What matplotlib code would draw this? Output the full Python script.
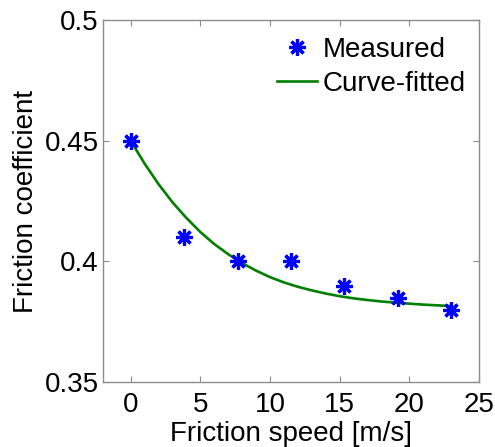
import matplotlib
matplotlib.use("Agg")
import matplotlib.pyplot as plt

plt.rcParams['font.family'] = ['Liberation Sans', 'DejaVu Sans']

# Measured data
speed_measured = [0.0, 3.83, 7.67, 11.5, 15.33, 19.17, 23.0]
coef_measured = [0.450, 0.410, 0.400, 0.400, 0.390, 0.385, 0.380]

# Curve-fitted line
speed_fit = [0, 1, 2, 3, 4, 5, 6, 7, 8, 9, 10, 11, 12, 13, 14, 15, 16, 17, 18, 19, 20, 21, 22, 23]
coef_fit = [0.4500, 0.4405, 0.4320, 0.4245, 0.4180, 0.4122, 0.4072, 0.4030, 0.3993, 0.3962,
            0.3935, 0.3913, 0.3895, 0.3880, 0.3867, 0.3856, 0.3847, 0.3840, 0.3834, 0.3829,
            0.3825, 0.3821, 0.3818, 0.3815]

x_ticks = [0, 5, 10, 15, 20, 25]
y_ticks = [0.35, 0.4, 0.45, 0.5]
y_ticklabels = ['0.35', '0.4', '0.45', '0.5']

fig = plt.figure(figsize=(4.95, 4.47), dpi=100)
ax = fig.add_axes([0.208, 0.1454, 0.759, 0.8092])

ax.plot(speed_measured, coef_measured, linestyle='none', marker=(8, 2, 0),
        markersize=12, markeredgewidth=2.3, color='#0000ff', label='Measured', zorder=3)
ax.plot(speed_fit, coef_fit, color='#007f00', linewidth=1.9, label='Curve-fitted', zorder=2)

ax.set_xlim(-2, 25)
ax.set_ylim(0.35, 0.5)
ax.set_xticks(x_ticks)
ax.set_yticks(y_ticks)
ax.set_yticklabels(y_ticklabels)

gray = '#8c8c8c'
for s in ax.spines.values():
    s.set_color(gray)
    s.set_linewidth(1.0)
ax.tick_params(direction='in', length=4, width=0.8, color=gray, labelsize=20,
               top=True, right=True, labelcolor='black')
ax.tick_params(axis='x', pad=7)
ax.tick_params(axis='y', pad=3)

ax.set_xlabel('Friction speed [m/s]', fontsize=20, labelpad=2)
ax.set_ylabel('Friction coefficient', fontsize=20, labelpad=4)

ax.legend(loc='upper right', bbox_to_anchor=(0.995, 0.985), frameon=False, fontsize=20,
          handlelength=1.45, handletextpad=0.2, labelspacing=0.3, borderaxespad=0.0)

fig.savefig('out.png', dpi=100)
